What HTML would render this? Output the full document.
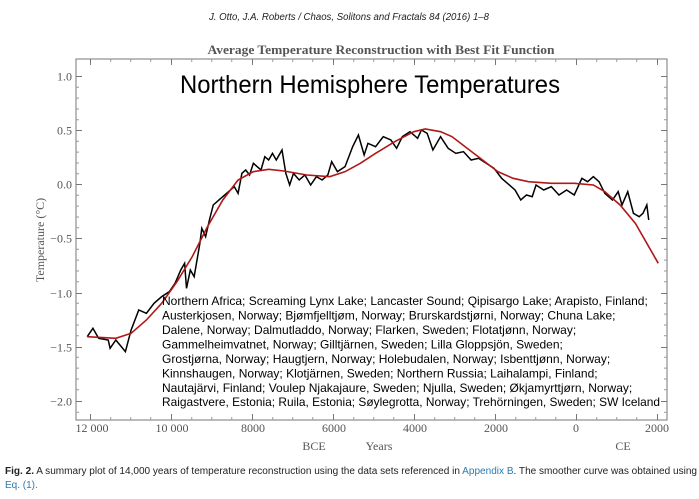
<!DOCTYPE html>
<html><head><meta charset="utf-8"><style>
html,body{margin:0;padding:0;background:#fff;}
svg{display:block;}
</style></head><body>
<svg width="699" height="499" viewBox="0 0 699 499" xmlns="http://www.w3.org/2000/svg">
<rect width="699" height="499" fill="#fff"/>
<text x="349" y="20" font-family="Liberation Sans, sans-serif" font-style="italic" font-size="10" text-anchor="middle" textLength="280" lengthAdjust="spacingAndGlyphs" fill="#222">J. Otto, J.A. Roberts / Chaos, Solitons and Fractals 84 (2016) 1–8</text>
<text x="381" y="54" font-family="Liberation Serif, serif" font-weight="bold" font-size="13" text-anchor="middle" textLength="347" lengthAdjust="spacingAndGlyphs" fill="#555">Average Temperature Reconstruction with Best Fit Function</text>
<rect x="76" y="59" width="591" height="361" fill="none" stroke="#777" stroke-width="1"/>
<g stroke="#777" stroke-width="1">
<line x1="90.5" y1="420" x2="90.5" y2="414"/><line x1="171.5" y1="420" x2="171.5" y2="414"/><line x1="252.5" y1="420" x2="252.5" y2="414"/><line x1="333.5" y1="420" x2="333.5" y2="414"/><line x1="414.5" y1="420" x2="414.5" y2="414"/><line x1="495.5" y1="420" x2="495.5" y2="414"/><line x1="576.5" y1="420" x2="576.5" y2="414"/><line x1="657.5" y1="420" x2="657.5" y2="414"/>
<line x1="90.5" y1="59" x2="90.5" y2="65"/><line x1="171.5" y1="59" x2="171.5" y2="65"/><line x1="252.5" y1="59" x2="252.5" y2="65"/><line x1="333.5" y1="59" x2="333.5" y2="65"/><line x1="414.5" y1="59" x2="414.5" y2="65"/><line x1="495.5" y1="59" x2="495.5" y2="65"/><line x1="576.5" y1="59" x2="576.5" y2="65"/><line x1="657.5" y1="59" x2="657.5" y2="65"/>
<line x1="76" y1="76.5" x2="82" y2="76.5"/><line x1="76" y1="130.5" x2="82" y2="130.5"/><line x1="76" y1="184.5" x2="82" y2="184.5"/><line x1="76" y1="238.5" x2="82" y2="238.5"/><line x1="76" y1="293.5" x2="82" y2="293.5"/><line x1="76" y1="347.5" x2="82" y2="347.5"/><line x1="76" y1="401.5" x2="82" y2="401.5"/>
<line x1="667" y1="76.5" x2="661" y2="76.5"/><line x1="667" y1="130.5" x2="661" y2="130.5"/><line x1="667" y1="184.5" x2="661" y2="184.5"/><line x1="667" y1="238.5" x2="661" y2="238.5"/><line x1="667" y1="293.5" x2="661" y2="293.5"/><line x1="667" y1="347.5" x2="661" y2="347.5"/><line x1="667" y1="401.5" x2="661" y2="401.5"/>
</g>
<g stroke="#999" stroke-width="1">
<path d="M110.75 420v-3M130.75 420v-3M150.75 420v-3M191.75 420v-3M211.75 420v-3M231.75 420v-3M272.75 420v-3M292.75 420v-3M312.75 420v-3M353.75 420v-3M373.75 420v-3M393.75 420v-3M434.75 420v-3M454.75 420v-3M474.75 420v-3M515.75 420v-3M535.75 420v-3M555.75 420v-3M596.75 420v-3M616.75 420v-3M636.75 420v-3"/>
<path d="M110.75 59v3M130.75 59v3M150.75 59v3M191.75 59v3M211.75 59v3M231.75 59v3M272.75 59v3M292.75 59v3M312.75 59v3M353.75 59v3M373.75 59v3M393.75 59v3M434.75 59v3M454.75 59v3M474.75 59v3M515.75 59v3M535.75 59v3M555.75 59v3M596.75 59v3M616.75 59v3M636.75 59v3"/>
<path d="M76 87.3h3M76 98.1h3M76 109h3M76 119.8h3M76 141.3h3M76 152.1h3M76 163h3M76 173.8h3M76 195.3h3M76 206.1h3M76 217h3M76 227.8h3M76 249.3h3M76 260.1h3M76 271h3M76 281.8h3M76 303.3h3M76 314.1h3M76 325h3M76 335.8h3M76 357.3h3M76 368.1h3M76 379h3M76 389.8h3M76 412.3h3"/>
<path d="M667 87.3h-3M667 98.1h-3M667 109h-3M667 119.8h-3M667 141.3h-3M667 152.1h-3M667 163h-3M667 173.8h-3M667 195.3h-3M667 206.1h-3M667 217h-3M667 227.8h-3M667 249.3h-3M667 260.1h-3M667 271h-3M667 281.8h-3M667 303.3h-3M667 314.1h-3M667 325h-3M667 335.8h-3M667 357.3h-3M667 368.1h-3M667 379h-3M667 389.8h-3M667 412.3h-3"/>
</g>
<g font-family="Liberation Serif, serif" font-size="12" fill="#555" text-anchor="end">
<text x="72" y="80.5">1.0</text><text x="72" y="134.5">0.5</text><text x="72" y="188.5">0.0</text><text x="72" y="242.5">−0.5</text><text x="72" y="297.5">−1.0</text><text x="72" y="351.5">−1.5</text><text x="72" y="405.5">−2.0</text>
</g>
<g font-family="Liberation Serif, serif" font-size="12" fill="#555" text-anchor="middle">
<text x="92" y="432">12 000</text><text x="172" y="432">10 000</text><text x="253" y="432">8000</text><text x="334" y="432">6000</text><text x="415" y="432">4000</text><text x="496" y="432">2000</text><text x="576" y="432">0</text><text x="657" y="432">2000</text>
<text x="314" y="450">BCE</text><text x="379" y="450">Years</text><text x="623" y="450">CE</text>
<text transform="translate(44,240) rotate(-90)">Temperature (°C)</text>
</g>
<text x="370" y="93" font-family="Liberation Sans, sans-serif" font-size="25" text-anchor="middle" textLength="380" lengthAdjust="spacingAndGlyphs" fill="#000">Northern Hemisphere Temperatures</text>
<g transform="translate(70,110) scale(0.382,0.3333)" fill="none">
<path vector-effect="non-scaling-stroke" stroke="#000" stroke-width="1.5" d="M45,680 L60,655 75,685 100,690 105,715 120,690 145,725 160,660 180,600 200,610 220,580 240,560 260,545 275,520 290,480 300,460 305,535 315,480 325,500 340,400 345,355 355,380 365,330 375,285 390,270 410,250 430,230 440,250 450,190 460,180 470,195 480,160 500,180 510,140 520,150 530,130 540,150 555,120 565,190 575,225 585,190 600,210 615,195 630,225 645,200 660,210 675,195 685,155 700,185 720,170 740,110 755,75 770,135 780,100 800,110 820,80 840,90 855,115 870,80 890,65 910,85 920,60 935,70 950,120 970,80 990,115 1010,130 1030,125 1050,150 1070,145 1090,160 1110,175 1130,205 1150,225 1165,240 1180,270 1195,255 1210,260 1220,225 1240,240 1260,230 1280,255 1300,240 1320,255 1340,205 1355,215 1370,200 1385,215 1400,250 1420,270 1435,245 1445,285 1460,245 1475,310 1490,320 1500,310 1510,285 1515,330"/>
<path vector-effect="non-scaling-stroke" stroke="#b01818" stroke-width="1.6" d="M45,680 L120,685 160,670 200,630 240,580 280,515 320,440 360,350 400,270 440,210 480,185 520,178 560,183 620,195 680,200 720,185 760,160 800,130 850,95 900,65 930,57 970,65 1000,80 1040,115 1080,150 1120,185 1160,205 1200,215 1260,220 1320,220 1370,225 1400,245 1440,285 1480,340 1510,400 1540,460"/>
</g>
<g font-family="Liberation Sans, sans-serif" font-size="12" fill="#000">
<text x="162" y="305">Northern Africa; Screaming Lynx Lake; Lancaster Sound; Qipisargo Lake; Arapisto, Finland;</text>
<text x="162" y="319.5">Austerkjosen, Norway; Bjømfjelltjøm, Norway; Brurskardstjørni, Norway; Chuna Lake;</text>
<text x="162" y="334">Dalene, Norway; Dalmutladdo, Norway; Flarken, Sweden; Flotatjønn, Norway;</text>
<text x="162" y="348.5">Gammelheimvatnet, Norway; Gilltjärnen, Sweden; Lilla Gloppsjön, Sweden;</text>
<text x="162" y="363">Grostjørna, Norway; Haugtjern, Norway; Holebudalen, Norway; Isbenttjønn, Norway;</text>
<text x="162" y="377.5">Kinnshaugen, Norway; Klotjärnen, Sweden; Northern Russia; Laihalampi, Finland;</text>
<text x="162" y="392">Nautajärvi, Finland; Voulep Njakajaure, Sweden; Njulla, Sweden; Økjamyrttjørn, Norway;</text>
<text x="162" y="406" textLength="498" lengthAdjust="spacingAndGlyphs">Raigastvere, Estonia; Ruila, Estonia; Søylegrotta, Norway; Trehörningen, Sweden; SW Iceland</text>
</g>
<g font-family="Liberation Sans, sans-serif" font-size="10" fill="#222">
<text x="5" y="474" textLength="692" lengthAdjust="spacingAndGlyphs"><tspan font-weight="bold">Fig. 2.</tspan>  A summary plot of 14,000 years of temperature reconstruction using the data sets referenced in <tspan fill="#2a7ab0">Appendix B</tspan>. The smoother curve was obtained using</text>
<text x="5" y="488" fill="#2a7ab0">Eq. (1).</text>
</g>
</svg>
</body></html>
